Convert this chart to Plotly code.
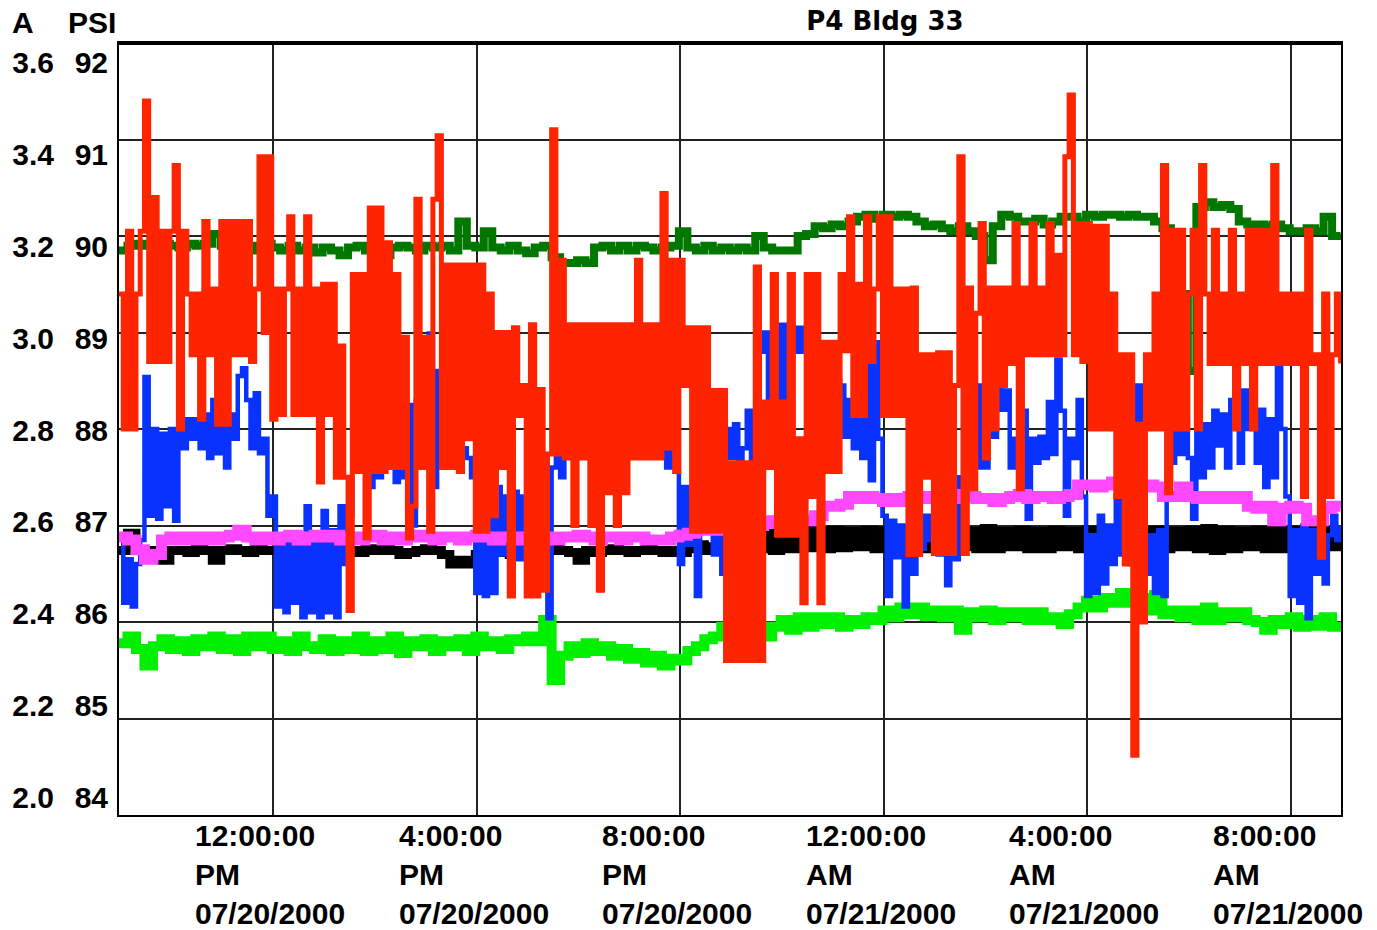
import numpy as np
import pandas as pd
import plotly.graph_objects as go

# ---------------- data (PSI scale; A = 2.0 + (PSI-84)*0.2) ----------------
start_time = "2000-07-20 08:58:30"
end_time = "2000-07-21 08:59:00"
fine_step_min = 5
coarse_step_min = 10

red_psi = [
    89.4, 88.0, 90.05, 88.0, 89.4, 90.05, 91.4, 88.7, 90.4, 88.7, 90.05, 88.7,
    90.05, 90.73, 88.0, 90.05, 89.4, 88.77, 89.4, 88.1, 90.15, 88.77, 89.45, 88.05,
    90.15, 88.05, 90.15, 88.77, 90.15, 88.77, 90.15, 88.7, 89.45, 90.82, 89.0, 90.82,
    88.1, 89.45, 88.15, 89.45, 90.2, 88.15, 89.45, 88.15, 90.2, 88.15, 89.45, 87.45,
    89.5, 88.15, 89.5, 87.5, 88.86, 87.5, 86.12, 89.6, 87.56, 89.6, 86.87, 90.29,
    87.56, 90.29, 87.56, 89.93, 87.6, 89.6, 87.6, 88.95, 86.87, 87.2, 90.38, 87.6,
    88.95, 86.94, 90.38, 91.04, 87.6, 89.7, 87.6, 89.7, 87.56, 89.7, 87.9, 89.7,
    86.94, 89.7, 86.94, 89.4, 87.1, 89.0, 87.6, 89.0, 86.27, 89.05, 88.14, 88.45,
    86.27, 89.08, 86.27, 88.41, 86.33, 87.74, 91.1, 87.74, 89.75, 87.7, 89.08, 87.0,
    89.08, 87.7, 89.08, 87.0, 89.08, 86.33, 89.08, 87.34, 89.08, 87.0, 89.08, 87.34,
    89.08, 87.7, 89.75, 87.7, 89.08, 87.7, 89.08, 87.7, 90.44, 87.8, 89.75, 87.56,
    89.75, 88.45, 89.05, 86.94, 89.05, 86.94, 89.05, 86.94, 88.4, 86.94, 88.4, 85.6,
    87.65, 85.6, 87.65, 85.6, 87.65, 85.6, 89.68, 85.6, 88.28, 87.6, 89.6, 86.9,
    88.28, 86.9, 89.6, 86.9, 87.9, 86.2, 89.6, 87.3, 89.6, 86.2, 88.9, 87.56,
    88.9, 87.56, 89.6, 88.81, 90.2, 88.14, 89.5, 88.14, 90.2, 88.7, 89.45, 90.2,
    88.14, 90.2, 88.14, 89.45, 88.14, 89.45, 86.7, 89.46, 86.7, 88.77, 87.5, 88.77,
    86.71, 88.79, 86.71, 88.79, 86.71, 88.45, 90.82, 86.71, 89.46, 87.38, 89.2, 90.13,
    87.7, 89.46, 88.0, 89.46, 88.45, 89.46, 88.68, 90.13, 87.38, 89.46, 88.77, 90.13,
    88.77, 89.46, 88.77, 90.13, 88.77, 89.8, 88.77, 90.82, 91.46, 88.77, 90.13, 88.7,
    90.13, 88.0, 90.1, 88.0, 90.1, 88.0, 89.4, 87.3, 88.77, 86.6, 88.77, 84.62,
    88.05, 86.0, 88.77, 88.0, 89.4, 88.0, 90.73, 87.34, 90.06, 88.0, 90.06, 88.0,
    89.4, 90.06, 88.0, 90.73, 89.4, 88.68, 90.06, 88.68, 89.4, 88.68, 90.06, 88.0,
    89.4, 88.68, 90.06, 88.0, 90.06, 88.68, 90.06, 88.68, 90.73, 88.68, 89.4, 88.68,
    89.4, 88.68, 89.4, 87.3, 90.06, 88.68, 88.77, 86.67, 89.4, 87.3, 88.77, 89.4, 88.68,
]

blue_psi = [
    86.9, 86.2, 86.65, 86.16, 86.6, 86.85, 88.54, 87.1, 88.0, 87.07, 87.95, 87.2,
    88.0, 87.05, 88.1, 87.8, 88.1, 87.9, 88.1, 87.8, 88.15, 87.7, 88.3, 87.75,
    88.1, 87.6, 88.15, 87.9, 88.55, 88.63, 88.3, 87.8, 88.37, 87.75, 87.9, 87.1,
    87.3, 86.16, 86.85, 86.1, 86.9, 86.2, 86.85, 86.05, 87.2, 86.1, 86.85, 86.05,
    87.15, 86.1, 86.95, 86.05, 87.2, 86.6, 87.1, 87.6, 88.2, 89.08, 88.6, 87.4,
    88.2, 87.5, 88.0, 87.6, 88.35, 87.45, 88.2, 87.5, 88.25, 87.0, 88.3, 87.6,
    88.4, 88.99, 87.4, 88.6, 88.28, 88.05, 88.28, 88.05, 88.1, 87.8, 87.7, 87.5,
    86.3, 87.5, 86.27, 87.5, 86.3, 87.4, 86.7, 87.3, 86.6, 87.35, 86.65, 87.3,
    87.9, 86.5, 87.7, 86.8, 87.7, 86.04, 87.6, 88.37, 87.5, 88.6, 88.55, 88.0,
    88.4, 88.0, 88.6, 88.3, 88.95, 88.68, 88.95, 88.4, 88.95, 88.5, 88.9, 88.3,
    88.5, 88.1, 88.4, 87.9, 88.37, 88.0, 88.3, 87.8, 88.6, 87.6, 88.0, 87.6,
    86.6, 87.4, 86.8, 87.3, 86.27, 87.0, 86.95, 87.1, 86.7, 87.3, 86.5, 88.0,
    87.7, 88.05, 87.4, 87.8, 88.19, 87.65, 88.1, 88.8, 89.0, 88.3, 89.05, 88.3,
    89.08, 88.0, 89.08, 88.8, 89.05, 88.8, 89.0, 88.6, 88.9, 88.5, 88.9, 88.6,
    88.9, 88.5, 88.45, 87.92, 88.3, 87.8, 88.1, 87.7, 88.72, 87.47, 88.9, 87.9,
    87.1, 86.27, 87.05, 86.67, 87.0, 86.16, 86.9, 86.5, 87.2, 86.76, 87.1, 86.85,
    87.15, 86.7, 87.1, 86.38, 87.3, 86.65, 87.5, 88.8, 88.0, 88.7, 87.6, 88.45,
    87.6, 88.4, 87.92, 88.45, 88.2, 88.4, 87.6, 87.9, 87.4, 88.19, 87.07, 87.9,
    87.65, 87.92, 87.7, 88.28, 87.74, 88.72, 88.19, 87.1, 87.9, 87.7, 88.3, 87.3,
    86.27, 86.9, 86.3, 87.1, 86.4, 87.0, 86.6, 87.3, 86.7, 86.9, 86.6, 87.1,
    88.45, 87.3, 86.5, 86.9, 86.3, 86.95, 86.27, 88.05, 87.65, 88.1, 87.74, 88.1,
    87.7, 87.07, 88.1, 87.5, 88.05, 87.6, 88.19, 87.83, 88.15, 87.6, 88.3, 88.68,
    87.65, 88.4, 88.0, 88.28, 87.65, 88.2, 87.4, 88.1, 87.5, 88.68, 88.0, 87.3,
    86.27, 86.95, 86.2, 87.0, 86.04, 86.95, 86.5, 86.95, 86.4, 86.9, 87.1, 86.85, 87.0,
]

darkgreen_psi = [
    89.85, 89.9, 89.92, 89.9, 89.88, 89.92, 89.9, 89.88, 89.92, 89.9, 89.92, 90.02,
    89.9, 89.88, 89.92, 89.85, 89.9, 89.92, 89.88, 89.85, 89.9, 89.85, 89.88, 89.83,
    89.88, 89.85, 89.8, 89.88, 89.9, 89.85, 89.9, 89.8, 89.88, 89.9, 89.88, 89.85,
    89.9, 89.88, 89.9, 89.85, 90.15, 89.9, 89.88, 90.05, 89.88, 89.85, 89.9, 89.85,
    89.82, 89.88, 89.9, 89.78, 89.72, 89.72, 89.75, 89.72, 89.88, 89.9, 89.85, 89.9,
    89.85, 89.9, 89.88, 89.85, 89.88, 89.9, 90.05, 89.88, 89.85, 89.9, 89.85, 89.88,
    89.85, 89.88, 89.85, 90.0, 89.88, 89.85, 89.85, 89.85, 90.0, 90.02, 90.1, 90.08,
    90.12, 90.1, 90.15, 90.2, 90.22, 90.18, 90.22, 90.2, 90.22, 90.2, 90.15, 90.1,
    90.12, 90.08, 90.05, 90.1, 90.05, 90.0, 89.75, 90.1, 90.22, 90.2, 90.15, 90.15,
    90.18, 90.12, 90.15, 90.2, 90.2, 90.15, 90.22, 90.2, 90.22, 90.22, 90.2, 90.22,
    90.2, 90.2, 90.15, 90.08, 89.6, 89.4, 88.6, 90.3, 90.35, 90.3, 90.32, 90.28,
    90.15, 90.12, 90.12, 90.1, 90.12, 90.08, 90.05, 90.05, 90.08, 90.05, 90.2, 90.0, 90.02,
]

magenta_psi = [
    86.88, 86.85, 86.75, 86.65, 86.7, 86.85, 86.88, 86.85, 86.88, 86.85, 86.88, 86.85,
    86.88, 86.9, 86.95, 86.88, 86.85, 86.88, 86.85, 86.88, 86.9, 86.85, 86.88, 86.9,
    86.88, 86.9, 86.85, 86.88, 86.85, 86.88, 86.9, 86.85, 86.88, 86.85, 86.88, 86.9,
    86.88, 86.85, 86.88, 86.88, 86.85, 86.88, 86.9, 86.88, 86.85, 86.88, 86.88, 86.85,
    86.88, 86.9, 86.88, 86.85, 86.88, 86.88, 86.9, 86.88, 86.85, 86.88, 86.88, 86.85,
    86.88, 86.88, 86.85, 86.85, 86.85, 86.88, 86.9, 86.92, 86.95, 86.95, 86.98, 86.95,
    87.0, 87.0, 86.98, 87.0, 87.05, 87.02, 87.0, 87.02, 87.05, 87.05, 87.1, 87.2,
    87.2, 87.22, 87.3, 87.28, 87.3, 87.28, 87.25, 87.28, 87.25, 87.3, 87.3, 87.28,
    87.3, 87.3, 87.28, 87.32, 87.3, 87.28, 87.28, 87.25, 87.28, 87.3, 87.32, 87.28,
    87.3, 87.3, 87.28, 87.3, 87.32, 87.42, 87.42, 87.4, 87.42, 87.45, 87.42, 87.42,
    87.4, 87.42, 87.4, 87.3, 87.3, 87.4, 87.3, 87.28, 87.3, 87.28, 87.3, 87.28,
    87.3, 87.2, 87.18, 87.2, 87.05, 87.18, 87.2, 87.18, 87.05, 87.05, 87.18, 87.2, 87.18,
]

black_psi = [
    86.74, 86.92, 86.74, 86.72, 86.74, 86.64, 86.74, 86.74, 86.72, 86.76, 86.74, 86.64,
    86.74, 86.76, 86.74, 86.72, 86.76, 86.74, 86.74, 86.7, 86.74, 86.76, 86.74, 86.72,
    86.76, 86.74, 86.8, 86.74, 86.72, 86.76, 86.74, 86.76, 86.74, 86.7, 86.72, 86.74,
    86.76, 86.74, 86.7, 86.6, 86.64, 86.6, 86.7, 86.74, 86.72, 86.74, 86.7, 86.72,
    86.74, 86.76, 86.74, 86.8, 86.74, 86.72, 86.64, 86.74, 86.72, 86.74, 86.76, 86.74,
    86.72, 86.74, 86.76, 86.74, 86.72, 86.74, 86.72, 86.76, 86.8, 86.74, 86.78, 86.8,
    86.93, 86.76, 86.94, 86.76, 86.93, 86.74, 86.94, 86.76, 86.95, 86.77, 86.94, 86.76,
    86.95, 86.77, 86.94, 86.78, 86.95, 86.76, 86.94, 86.77, 86.93, 86.78, 86.95, 86.76,
    86.94, 86.74, 86.95, 86.78, 86.94, 86.76, 86.97, 86.76, 86.94, 86.78, 86.95, 86.76,
    86.94, 86.76, 86.95, 86.78, 86.94, 86.76, 86.95, 86.76, 86.94, 86.78, 86.95, 86.76,
    86.94, 86.76, 86.95, 86.76, 86.94, 86.78, 86.95, 86.76, 86.97, 86.74, 86.95, 86.76,
    86.94, 86.78, 86.95, 86.76, 86.94, 86.76, 86.95, 86.78, 86.94, 86.76, 86.95, 86.78, 86.86,
]

lime_psi = [
    85.78, 85.85, 85.72, 85.55, 85.75, 85.82, 85.72, 85.8, 85.7, 85.82, 85.75, 85.85,
    85.72, 85.82, 85.7, 85.85, 85.75, 85.85, 85.72, 85.8, 85.7, 85.85, 85.75, 85.72,
    85.82, 85.7, 85.8, 85.72, 85.85, 85.7, 85.8, 85.72, 85.85, 85.68, 85.8, 85.75,
    85.82, 85.7, 85.8, 85.75, 85.82, 85.7, 85.85, 85.75, 85.8, 85.72, 85.82, 85.8,
    85.85, 85.8, 86.02, 85.4, 85.65, 85.75, 85.68, 85.78, 85.7, 85.75, 85.65, 85.72,
    85.62, 85.68, 85.58, 85.65, 85.55, 85.62, 85.6, 85.7, 85.75, 85.82, 85.85, 85.95,
    85.9, 85.95, 85.88, 85.95, 85.85, 85.95, 86.02, 85.92, 86.05, 85.95, 86.05, 85.98,
    86.05, 85.95, 86.02, 85.98, 86.05, 86.02, 86.12, 86.05, 86.15, 86.08, 86.15, 86.06,
    86.12, 86.05, 86.12, 85.92, 86.1, 86.05, 86.12, 86.02, 86.1, 86.05, 86.1, 86.02,
    86.1, 86.02, 86.05, 85.98, 86.08, 86.15, 86.22, 86.15, 86.25, 86.2, 86.3, 86.2,
    86.25, 86.12, 86.28, 86.08, 86.12, 86.05, 86.12, 86.02, 86.15, 86.02, 86.1, 86.05,
    86.1, 86.02, 86.0, 85.92, 86.02, 85.98, 86.05, 85.95, 86.02, 85.96, 86.05, 85.95, 86.0,
]

psi_ticks = [92, 91, 90, 89, 88, 87, 86, 85, 84]
amp_ticks = [3.6, 3.4, 3.2, 3.0, 2.8, 2.6, 2.4, 2.2, 2.0]
x_tick_times = ["2000-07-20 12:00:00", "2000-07-20 16:00:00", "2000-07-20 20:00:00",
                "2000-07-21 00:00:00", "2000-07-21 04:00:00", "2000-07-21 08:00:00"]
x_tick_time_text = ["12:00:00", "4:00:00", "8:00:00", "12:00:00", "4:00:00", "8:00:00"]
x_tick_ampm = ["PM", "PM", "PM", "AM", "AM", "AM"]
x_tick_dates = ["07/20/2000", "07/20/2000", "07/20/2000", "07/21/2000", "07/21/2000", "07/21/2000"]
title_text = "P4 Bldg 33"

# ---------------- figure ----------------
t0 = pd.Timestamp(start_time)


def times(n, step):
    return t0 + pd.to_timedelta(np.arange(n) * step, unit="m")


W, H = 1377, 930
ML, MR, MT, MB = 119, 36, 43, 115
plot_h = H - MT - MB
plot_w = W - ML - MR

TICK_FONT = dict(family="Liberation Sans, Arial, sans-serif", size=30, color="black", weight="bold")

fig = go.Figure()
series = [
    (black_psi, coarse_step_min, "#000000", 9),
    (lime_psi, coarse_step_min, "#00f000", 10),
    (darkgreen_psi, coarse_step_min, "#007800", 8),
    (blue_psi, fine_step_min, "#0a32ff", 4.5),
    (magenta_psi, coarse_step_min, "#ff48ff", 11),
    (red_psi, fine_step_min, "#ff2400", 5),
]
for vals, step, color, width in series:
    fig.add_trace(go.Scatter(
        x=times(len(vals), step), y=vals, mode="lines",
        line=dict(color=color, width=width, shape="hv", simplify=False),
        hoverinfo="skip", showlegend=False,
    ))

# empty traces so the two label-only axes are created
for ax in ("y2", "y3"):
    fig.add_trace(go.Scatter(x=[], y=[], yaxis=ax, mode="lines",
                             hoverinfo="skip", showlegend=False))

# label axes: tick label centres sit at 62.5px (top value) and 797.5px (bottom value)
lab_top_px, lab_bot_px = 62.5, 797.5
psi_per_px = (max(psi_ticks) - min(psi_ticks)) / (lab_bot_px - lab_top_px)
psi_lab_range = [min(psi_ticks) - (MT + plot_h - lab_bot_px) * psi_per_px,
                 max(psi_ticks) + (lab_top_px - MT) * psi_per_px]
amp_lab_range = [2.0 + (v - 84) * 0.2 for v in psi_lab_range]

fig.update_layout(
    width=W, height=H,
    margin=dict(l=ML, r=MR, t=MT, b=MB, autoexpand=False),
    paper_bgcolor="white", plot_bgcolor="white",
    showlegend=False,
    title=dict(text=title_text, x=(885 - ML) / plot_w, xref="paper", xanchor="center",
               y=1 - 21 / H, yref="container", yanchor="middle",
               font=dict(family="DejaVu Sans, sans-serif", size=26, color="black", weight="bold")),
    xaxis=dict(type="date", range=[start_time, end_time], tickvals=x_tick_times,
               showticklabels=False, ticks="", showgrid=True, gridcolor="#222222", gridwidth=2,
               showline=True, mirror=True, linecolor="black", linewidth=2, zeroline=False),
    yaxis=dict(range=[84, 92], tickvals=psi_ticks, showticklabels=False, ticks="",
               showgrid=True, gridcolor="#222222", gridwidth=2, zeroline=False,
               showline=True, mirror=True, linecolor="black", linewidth=2),
    yaxis2=dict(overlaying="y", anchor="x", side="left", range=amp_lab_range,
                tickvals=amp_ticks, ticktext=[f"{v:.1f}" for v in amp_ticks],
                showgrid=False, zeroline=False, showline=False, ticks="",
                ticklabelstandoff=64, tickfont=TICK_FONT),
    yaxis3=dict(overlaying="y", anchor="x", side="left", range=psi_lab_range,
                tickvals=psi_ticks, ticktext=[str(v) for v in psi_ticks],
                showgrid=False, zeroline=False, showline=False, ticks="",
                ticklabelstandoff=10, tickfont=TICK_FONT),
)

# thicker top frame line
fig.add_shape(type="line", xref="paper", yref="paper", x0=0, x1=1, y0=1, y1=1,
              line=dict(color="black", width=4))

# column headers
fig.add_annotation(text="A", xref="paper", yref="paper", x=(10 - ML) / plot_w, xanchor="left",
                   y=1 + (MT - 23) / plot_h, yanchor="middle", showarrow=False, font=TICK_FONT)
fig.add_annotation(text="PSI", xref="paper", yref="paper", x=(118 - ML) / plot_w, xanchor="right",
                   y=1 + (MT - 23) / plot_h, yanchor="middle", showarrow=False, font=TICK_FONT)

# three-line time labels under each vertical grid line
for tt, tm, ap, dt in zip(x_tick_times, x_tick_time_text, x_tick_ampm, x_tick_dates):
    fig.add_annotation(text=f"{tm}<br>{ap}<br>{dt}", x=tt, xref="x", y=0, yref="paper",
                       xanchor="center", yanchor="top", align="left", yshift=-2, xshift=-3,
                       showarrow=False, font=TICK_FONT)

fig.write_html("out.html")
